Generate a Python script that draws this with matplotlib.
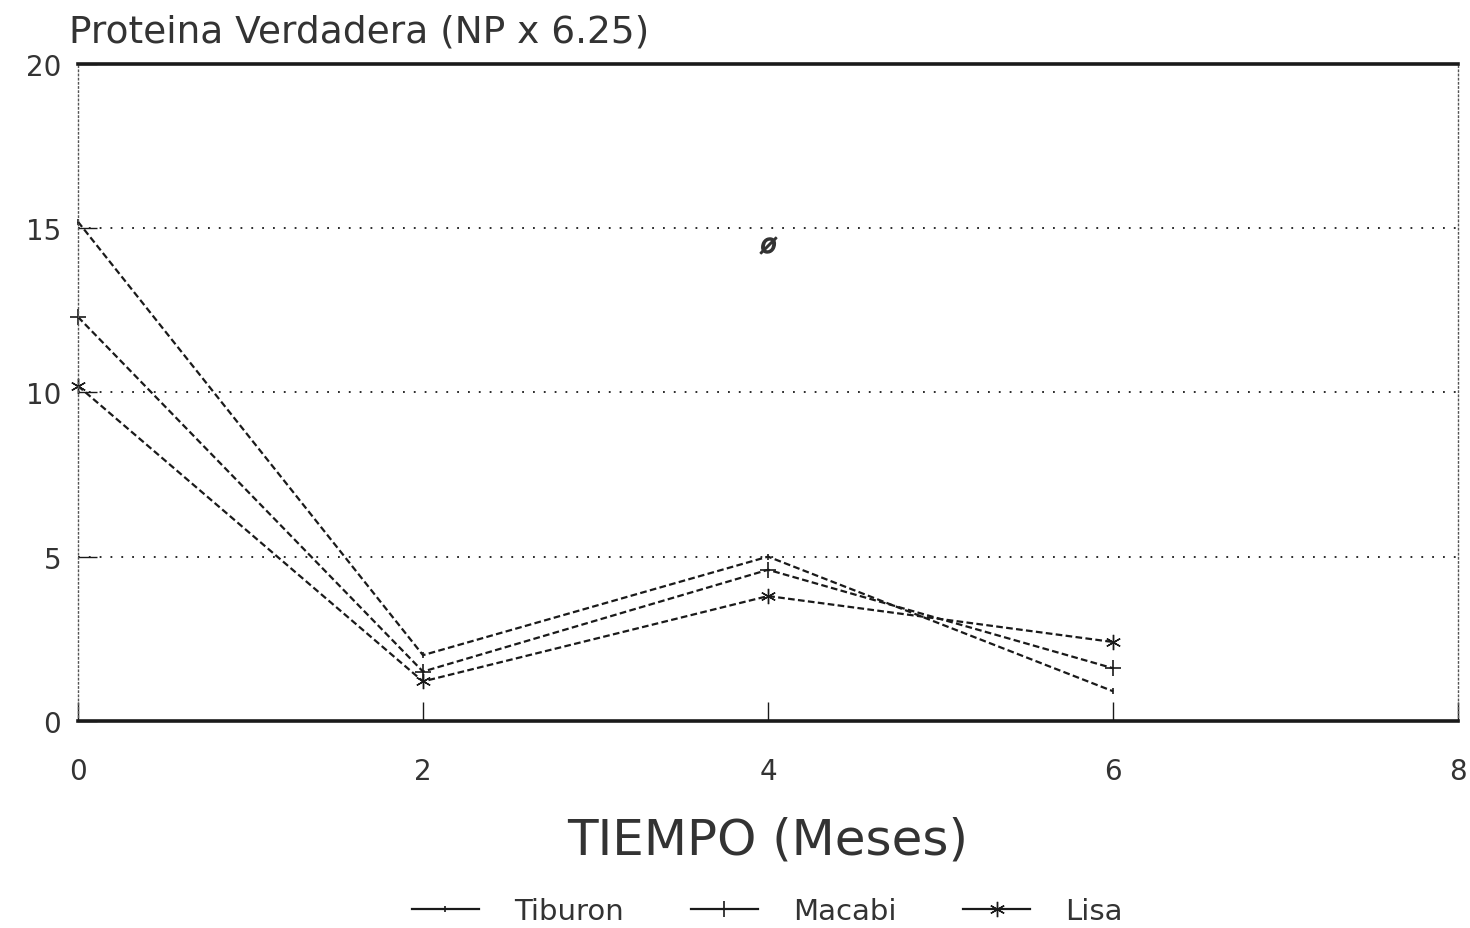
import matplotlib.pyplot as plt

# Datos
meses = [0, 2, 4, 6]
tiburon = [15.2, 2.0, 5.0, 0.9]
macabi = [12.3, 1.5, 4.6, 1.6]
lisa = [10.2, 1.2, 3.8, 2.4]

# punto suelto que aparece en el original
punto_x = [4]
punto_y = [14.5]

x_ticks = [0, 2, 4, 6, 8]
y_ticks = [0, 5, 10, 15, 20]

plt.rcParams['font.family'] = ['DejaVu Sans']
tinta = '#1a1a1a'

fig = plt.figure(figsize=(14.7, 9.29), dpi=100)
ax = fig.add_axes([0.053, 0.223, 0.939, 0.707])

estilo = dict(color=tinta, linewidth=1.6, linestyle=(0, (3, 1.5)), clip_on=False)
ax.plot(meses, tiburon, marker='|', markersize=5, markeredgewidth=1.2, label='Tiburon', **estilo)
ax.plot(meses, macabi, marker='+', markersize=12, markeredgewidth=1.2, label='Macabi', **estilo)
ax.plot(meses, lisa, marker=(6, 2, 0), markersize=11, markeredgewidth=1.0, label='Lisa', **estilo)
ax.plot(punto_x, punto_y, linestyle='none', marker=r'$\o$', markersize=12, color='#333333')

ax.set_xlim(0, 8)
ax.set_ylim(0, 20)
ax.set_xticks(x_ticks)
ax.set_yticks(y_ticks)
ax.tick_params(axis='both', direction='in', length=14, width=1, colors=tinta, labelsize=20)
ax.tick_params(axis='x', pad=26)
ax.tick_params(axis='y', pad=12)
for lbl in ax.get_xticklabels() + ax.get_yticklabels():
    lbl.set_color('#333333')

# rejilla horizontal punteada
ax.grid(axis='y', linestyle=(0, (1, 5)), linewidth=1.3, color=tinta)

for lado in ['top', 'bottom']:
    ax.spines[lado].set_linewidth(2.6)
    ax.spines[lado].set_color(tinta)
for lado in ['left', 'right']:
    ax.spines[lado].set_linestyle((0, (1, 2)))
    ax.spines[lado].set_linewidth(1.0)
    ax.spines[lado].set_color('#555555')

fig.text(0.047, 0.965, 'Proteina Verdadera (NP x 6.25)', fontsize=27,
         color='#333333', ha='left', va='center')
ax.set_xlabel('TIEMPO (Meses)', fontsize=36, color='#333333', labelpad=22)

leg = fig.legend(loc='center', bbox_to_anchor=(0.522, 0.018), ncol=3, frameon=False,
                 fontsize=21, handlelength=2.3, handletextpad=1.2, columnspacing=2.3,
                 labelcolor='#333333')
for h in leg.legend_handles:
    h.set_linestyle('-')

fig.savefig('out.png', dpi=100)
